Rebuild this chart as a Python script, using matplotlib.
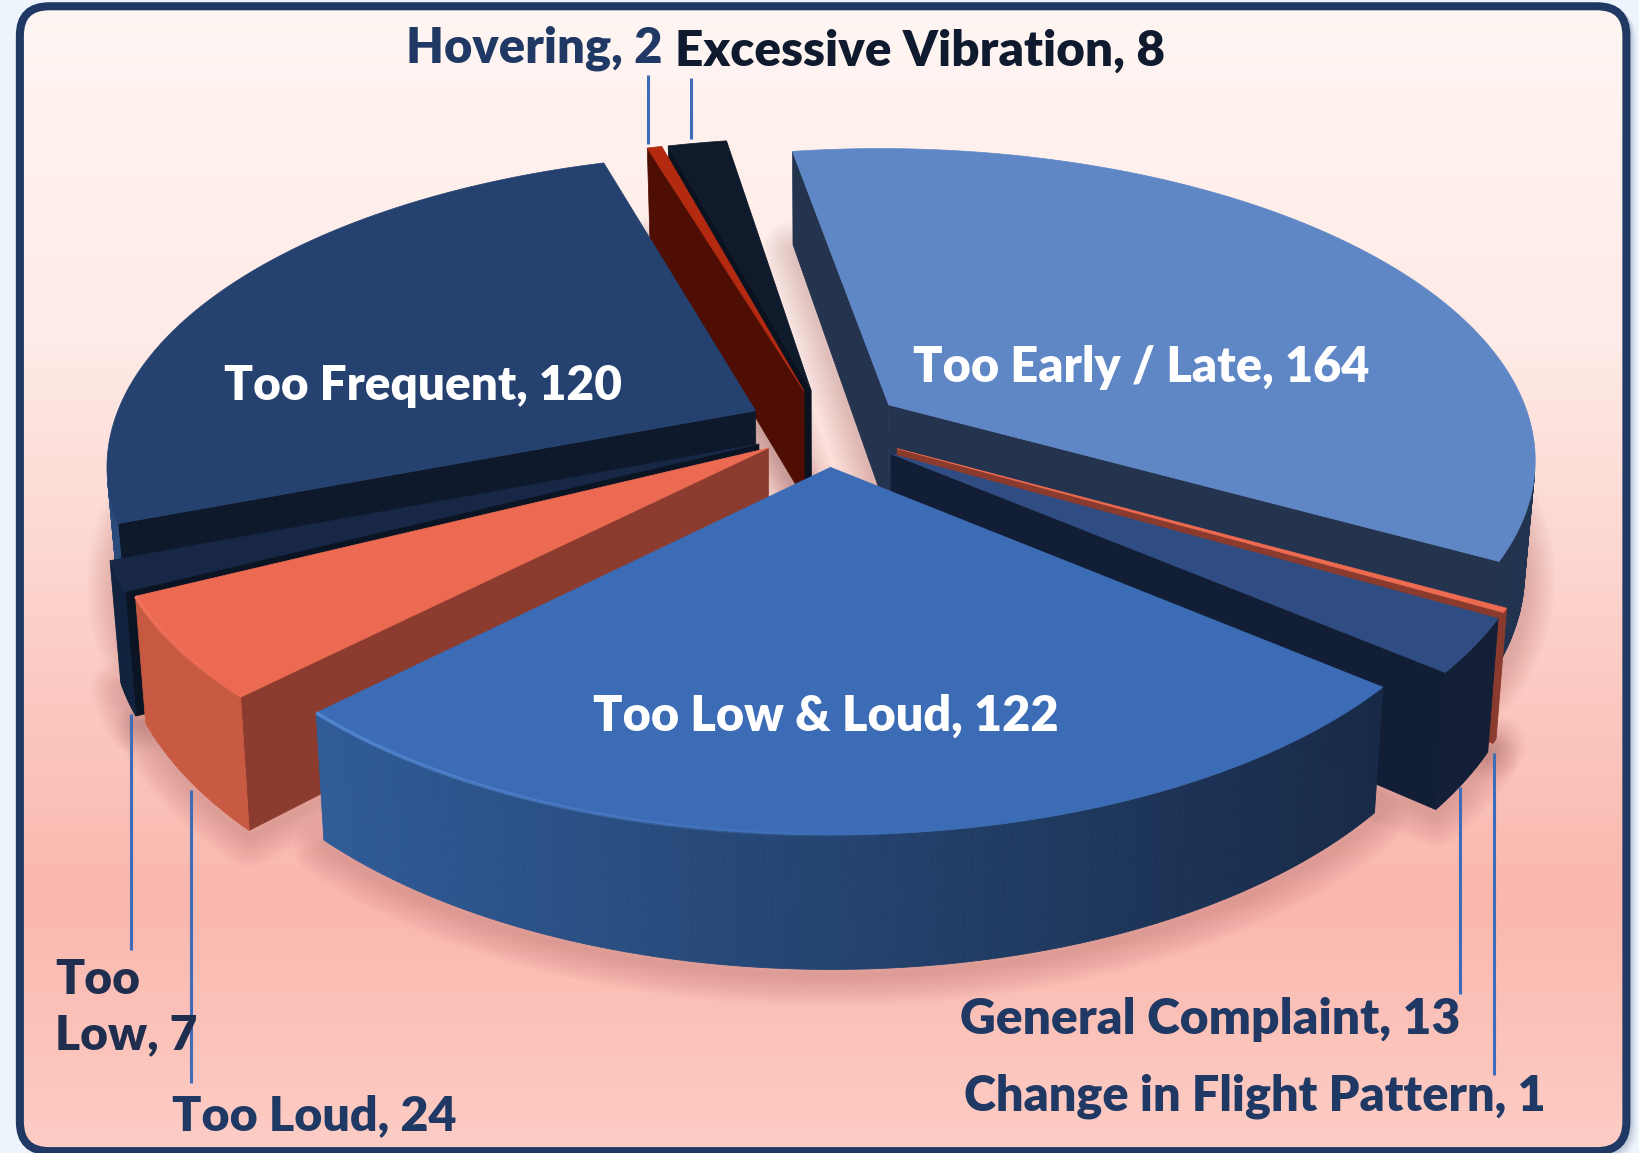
import numpy as np
import matplotlib
matplotlib.use("Agg")
import matplotlib.pyplot as plt
from matplotlib.colors import LinearSegmentedColormap, to_rgb
from matplotlib.patches import FancyBboxPatch, Polygon

plt.rcParams['font.family'] = ['Lato', 'DejaVu Sans']

# ---- data (clockwise, starting at the near-top slice) ----
categories = ["Too Early / Late", "Change in Flight Pattern", "General Complaint",
              "Too Low & Loud", "Too Loud", "Too Low", "Too Frequent",
              "Hovering", "Excessive Vibration"]
values = [164, 1, 13, 122, 24, 7, 120, 2, 8]
explode = [0.12, 0.165, 0.16, 0.14, 0.09, 0.115, 0.12, 0.12, 0.12]
radius = [1, 0.97, 0.97, 0.96, 1, 1, 1, 1, 1]
width_scale = [1, 1, 1, 1.017, 1, 1, 1, 1, 1]
depth_scale = [1, 1.08, 1.1, 1, 1.06, 1.04, 1, 1, 1]
nudge_x = [0, -22, -20, 0, -10, 1, -2, -1, 1]
nudge_y = [2, 0, 2, 0, 8, 6, 3, 2, 2]
top_colors = ["#5f87c6", "#ee6a50", "#2f4d82", "#3c6cb5", "#ed6a52", "#172745", "#24416f", "#b32a10", "#0f1a2b"]
wall_left = ["#22334f", "#8a3b2e", "#131f37", "#305c98", "#c85a42", "#10223e", "#294a7a", "#4e0e03", "#0a1220"]
wall_right = ["#22334f", "#8a3b2e", "#131f37", "#182a47", "#c85a42", "#10223e", "#24416f", "#4e0e03", "#0a1220"]
cut_colors = ["#24344f", "#8a3b2e", "#121e36", "#182a47", "#8b3c2e", "#0b1423", "#0e1a2c", "#4e0e03", "#0a1220"]
draw_order = [8, 7, 0, 6, 1, 2, 5, 4, 3]

# ---- view ----
W, H = 1568.0, 1102.3
CX, CY, FX, FY, PERSP, DEPTH, SHRINK, START = 790.0, 405.0, 615.0, 292.0, 1 / 6, 105.0, 0.985, -9.2

fig = plt.figure(figsize=(16.4, 11.53), dpi=100, facecolor="#eef4fc")
ax = fig.add_axes([0, 0, 1, 1])
ax.set_xlim(0, W)
ax.set_ylim(H, 0)
ax.axis("off")

# ---- panel ----
for off, a in ((6, 0.05), (4, 0.08), (2, 0.1)):
    ax.add_patch(FancyBboxPatch((19 + off, 6 + off), 1536, 1094.5, boxstyle="round,pad=0,rounding_size=28",
                                fc="none", ec="#1f3864", lw=5.8, alpha=a, zorder=0.5))
box = FancyBboxPatch((19, 6), 1536, 1094.5, boxstyle="round,pad=0,rounding_size=28",
                     fc="none", ec="#1f3864", lw=5.8, zorder=50)
ax.add_patch(box)
cmap = LinearSegmentedColormap.from_list("bg", [(0, "#fff6f3"), (0.3, "#feeae6"), (0.55, "#fccfc8"),
                                                (0.78, "#f9b7ad"), (1, "#fdcdc5")])
im = ax.imshow(np.linspace(0, 1, 512)[:, None], cmap=cmap, extent=(0, W, H, 0), aspect="auto", zorder=0.8)
im.set_clip_path(box)
ax.set_xlim(0, W)
ax.set_ylim(H, 0)


def project(X, Y, z, i):
    den = 1 + PERSP * Y
    x = FX * width_scale[i] * X / den
    y = -FY * Y / den
    if z:
        x = x * SHRINK
        y = y + DEPTH * depth_scale[i] / den
    return np.column_stack([CX + nudge_x[i] + x, CY + nudge_y[i] + y])


def signed(p):
    x, y = p[:, 0], p[:, 1]
    return np.sum(x * np.roll(y, -1) - np.roll(x, -1) * y)


def lerp(c1, c2, t):
    a, b = np.array(to_rgb(c1)), np.array(to_rgb(c2))
    return tuple(a + (b - a) * t)


total = sum(values)
edges = START + np.concatenate([[0], np.cumsum(values)]) * 360.0 / total
slices = []
for i in range(len(values)):
    a, b = edges[i], edges[i + 1]
    mid = np.radians((a + b) / 2)
    ox, oy = explode[i] * np.sin(mid), explode[i] * np.cos(mid)
    th = np.radians(np.linspace(a, b, max(3, int((b - a) * 2))))
    rx, ry = ox + radius[i] * np.sin(th), oy + radius[i] * np.cos(th)
    slices.append(dict(ox=ox, oy=oy, th=th, rx=rx, ry=ry))

# soft ground shadow
for k, lw in enumerate(np.linspace(44, 4, 14)):
    for i in range(len(values)):
        s = slices[i]
        pts = np.vstack([project(np.array([s['ox']]), np.array([s['oy']]), 1, i),
                         project(s['rx'], s['ry'], 1, i)]) + [0, 6]
        ax.add_patch(Polygon(pts, closed=True, fc="none", ec="#7a3030", lw=lw, alpha=0.014,
                             joinstyle="round", zorder=1))

# slices, back to front
z = 2.0
for i in draw_order:
    s = slices[i]
    ox, oy, rx, ry = s['ox'], s['oy'], s['rx'], s['ry']
    apex_t = project(np.array([ox]), np.array([oy]), 0, i)
    apex_b = project(np.array([ox]), np.array([oy]), 1, i)
    rim_t = project(rx, ry, 0, i)
    rim_b = project(rx, ry, 1, i)
    # cut faces
    start_face = np.vstack([apex_t, rim_t[0], rim_b[0], apex_b])
    end_face = np.vstack([apex_b, rim_b[-1], rim_t[-1], apex_t])
    for face in (start_face, end_face):
        if signed(face) < 0:
            ax.add_patch(Polygon(face, closed=True, fc=cut_colors[i], ec=cut_colors[i], lw=0.5, zorder=z))
    # outer wall
    xs = rim_t[:, 0]
    span = max(xs.max() - xs.min(), 1)
    for j in range(len(rx) - 1):
        q = np.array([rim_t[j], rim_t[j + 1], rim_b[j + 1], rim_b[j]])
        if signed(q) < 0:
            t = (rim_t[j, 0] - xs.min()) / span
            c = lerp(wall_left[i], wall_right[i], t)
            ax.add_patch(Polygon(q, closed=True, fc=c, ec=c, lw=0.6, zorder=z))
    # top face
    ax.add_patch(Polygon(np.vstack([apex_t, rim_t]), closed=True, fc=top_colors[i], ec=top_colors[i],
                         lw=0.5, zorder=z + 0.1))
    # bright bevel along the front rim, fading away to the right
    if i in (3, 4):
        hi = "#5a90dc" if i == 3 else "#f57a60"
        order = np.argsort(rim_t[:, 0])
        front = rim_t[order]
        front = front[front[:, 0] < (CX + 80 if i == 3 else CX)]
        for j in range(len(front) - 1):
            ax.plot(front[j:j + 2, 0], front[j:j + 2, 1], color=hi, lw=2.6,
                    alpha=0.75 * (1 - j / len(front)), zorder=z + 0.2, solid_capstyle="butt")
    z += 1

# ---- leader lines ----
leaders = [(620, 72, 138), (661, 75, 133), (125, 683, 908), (183, 755, 1035),
           (1396, 752, 950), (1428, 720, 1028)]
for x, y0, y1 in leaders:
    ax.plot([x, x], [y0, y1], color="#3f6cb8", lw=2.2, zorder=30, solid_capstyle="butt")

# ---- labels ----
labels = [
    (0, 1091, 351, "white", 35.0),
    (1, 1200, 1048, "#1f3864", 35.0),
    (2, 1157, 975, "#1f3864", 35.8),
    (3, 790, 685, "white", 35.0),
    (4, 300, 1067, "#1f3864", 34.8),
    (6, 404, 369, "white", 34.4),
    (7, 511, 46, "#1f3864", 35.2),
    (8, 880, 49, "#0f1a2e", 35.6),
]
for i, x, y, c, fs in labels:
    ax.text(x, y, f"{categories[i]}, {values[i]}", color=c, fontsize=fs, fontweight="heavy",
            ha="center", va="center", zorder=40)
ax.text(53, 963, "Too\nLow, 7", color="#1f2e4f", fontsize=34.5, fontweight="heavy", ha="left", va="center",
        linespacing=1.32, zorder=40)

fig.savefig("out.png", dpi=100, facecolor=fig.get_facecolor())
